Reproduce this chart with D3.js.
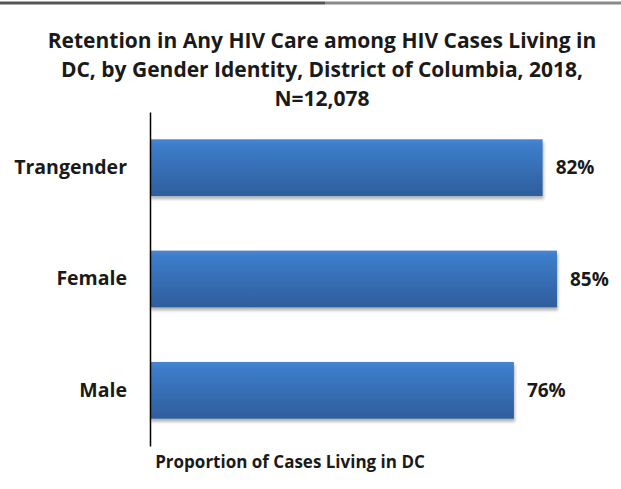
<!DOCTYPE html>
<html lang="en">
<head>
<meta charset="utf-8">
<title>Retention in Any HIV Care by Gender Identity</title>
<script src="https://d3js.org/d3.v7.min.js"></script>
<style>
  body { margin: 0; background: #fff; }
  text { font-family: "Open Sans", sans-serif; font-weight: bold; fill: #1a1a1a; }
</style>
</head>
<body>
<script>
// data
var categories = ["Trangender", "Female", "Male"];
var values = [82, 85, 76];
var titleLines = ["Retention in Any HIV Care among HIV Cases Living in",
                  "DC, by Gender Identity, District of Columbia, 2018,",
                  "N=12,078"];
var xTitle = "Proportion of Cases Living in DC";

var w = 621, h = 489;

var svg = d3.select("body").append("svg")
  .attr("width", w)
  .attr("height", h);

// frame edge at top
svg.append("line").attr("x1", 0).attr("x2", 325).attr("y1", 3).attr("y2", 3)
  .attr("stroke", "#555").attr("stroke-width", 3);
svg.append("line").attr("x1", 325).attr("x2", w).attr("y1", 3).attr("y2", 3)
  .attr("stroke", "#8a8a8a").attr("stroke-width", 3);

// gradient for bars
var defs = svg.append("defs");
var grad = defs.append("linearGradient").attr("id", "barGrad")
  .attr("x1", 0).attr("y1", 0).attr("x2", 0).attr("y2", 1);
grad.append("stop").attr("offset", "0%").attr("stop-color", "#4a86d0");
grad.append("stop").attr("offset", "12%").attr("stop-color", "#3c7cca");
grad.append("stop").attr("offset", "100%").attr("stop-color", "#2e5e9c");

var shadow = defs.append("filter").attr("id", "shadow")
  .attr("x", "-5%").attr("y", "-10%").attr("width", "110%").attr("height", "140%");
shadow.append("feDropShadow").attr("dx", 1).attr("dy", 3).attr("stdDeviation", 1.5)
  .attr("flood-color", "#000").attr("flood-opacity", 0.3);

// scales
var x = d3.scaleLinear().domain([0, 85]).range([150, 557]);
var y = d3.scaleBand().domain(categories).range([112, 446]).paddingInner(0.49).paddingOuter(0.245);

// title
svg.append("text")
  .attr("text-anchor", "middle")
  .attr("font-size", "21px")
  .selectAll("tspan")
  .data(titleLines)
  .enter().append("tspan")
  .attr("x", 322)
  .attr("y", function(d, i) { return 48 + i * 29; })
  .text(function(d) { return d; });

// bars
svg.selectAll("rect.bar")
  .data(values)
  .enter().append("rect")
  .attr("class", "bar")
  .attr("x", x(0))
  .attr("y", function(d, i) { return y(categories[i]); })
  .attr("width", function(d) { return x(d) - x(0); })
  .attr("height", y.bandwidth())
  .attr("fill", "url(#barGrad)")
  .attr("filter", "url(#shadow)");

// value labels
svg.selectAll("text.val")
  .data(values)
  .enter().append("text")
  .attr("class", "val")
  .attr("x", function(d) { return x(d) + 13; })
  .attr("y", function(d, i) { return y(categories[i]) + y.bandwidth() / 2; })
  .attr("dy", "0.35em")
  .attr("font-size", "19px")
  .text(function(d) { return d + "%"; });

// y axis
var yAxis = d3.axisLeft(y).tickSize(0).tickPadding(23);
var gy = svg.append("g")
  .attr("transform", "translate(" + x(0) + ",0)")
  .call(yAxis);
gy.select(".domain").attr("stroke", "#000").attr("stroke-width", 1.5);
gy.selectAll("text").attr("font-size", "19.5px").attr("fill", "#1a1a1a")
  .style("font-family", "'Open Sans', sans-serif").style("font-weight", "bold");

// x axis title
svg.append("text")
  .attr("x", 290)
  .attr("y", 468)
  .attr("text-anchor", "middle")
  .attr("font-size", "17px")
  .text(xTitle);
</script>
</body>
</html>
